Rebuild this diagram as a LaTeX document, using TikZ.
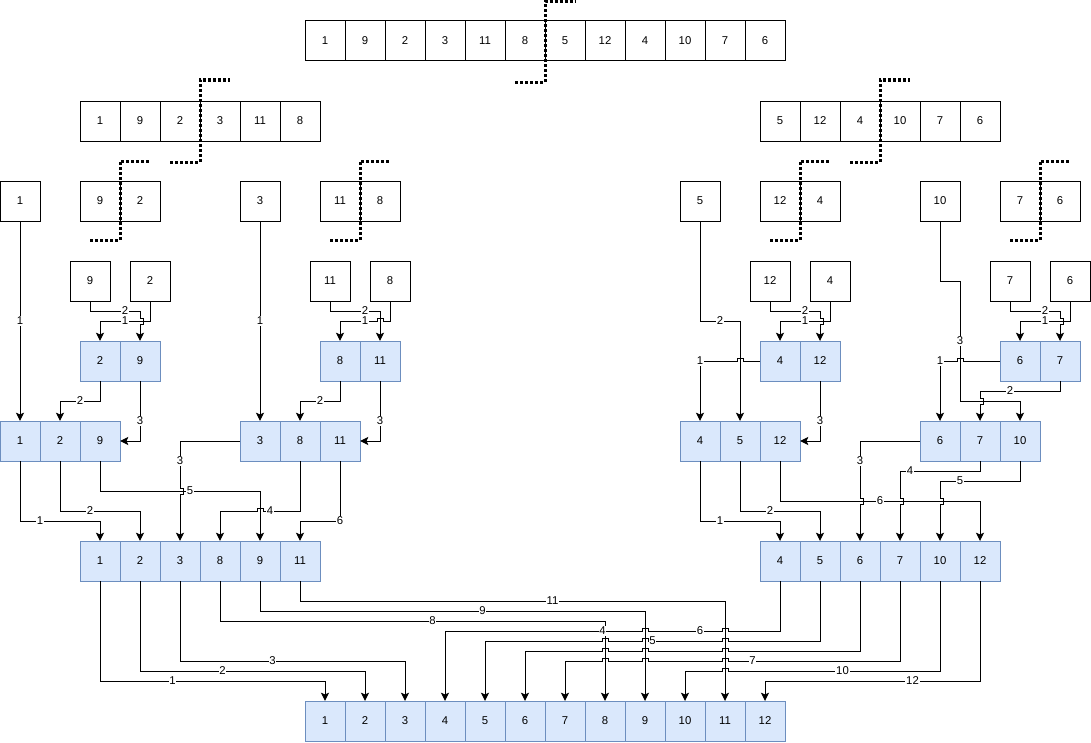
\documentclass[tikz,border=0pt]{standalone}
\usepackage{fontspec}
\setmainfont{Liberation Sans}
\usetikzlibrary{arrows.meta}
\definecolor{fillblue}{HTML}{DAE8FC}
\definecolor{bordblue}{HTML}{6C8EBF}
\begin{document}
\begin{tikzpicture}[x=0.75pt,y=-0.75pt,
  every node/.style={font=\fontsize{8.5}{10}\selectfont},
  cell/.style={draw=black,line width=0.75pt,minimum width=30pt,minimum height=30pt,inner sep=0pt,outer sep=0pt},
  bcell/.style={cell,draw=bordblue,fill=fillblue},
  ln/.style={line width=0.75pt,black},
  arr/.style={ln,-{Stealth[length=6.2pt,width=6pt,inset=1.3pt]}},
  lbl/.style={fill=white,inner sep=0.6pt},
  cut/.style={line width=2.25pt,dash pattern=on 2.25pt off 1.5pt}
]
\useasboundingbox (0,0) rectangle (1091,742);

% ---- level 1
\foreach \v [count=\i] in {1,9,2,3,11,8,5,12,4,10,7,6}
  \node[cell] (T\i) at ({285+40*\i},41) {\v};
% ---- level 2
\foreach \v [count=\i] in {1,9,2,3,11,8}
  \node[cell] (A\i) at ({60+40*\i},121) {\v};
\foreach \v [count=\i] in {5,12,4,10,7,6}
  \node[cell] (B\i) at ({740+40*\i},121) {\v};
% ---- level 3
\node[cell] (s1) at (20,201) {1};
\node[cell] (p1a) at (100,201) {9};
\node[cell] (p1b) at (140,201) {2};
\node[cell] (s2) at (260,201) {3};
\node[cell] (p2a) at (340,201) {11};
\node[cell] (p2b) at (380,201) {8};
\node[cell] (s3) at (700,201) {5};
\node[cell] (p3a) at (780,201) {12};
\node[cell] (p3b) at (820,201) {4};
\node[cell] (s4) at (940,201) {10};
\node[cell] (p4a) at (1020,201) {7};
\node[cell] (p4b) at (1060,201) {6};
% ---- level 4
\node[cell] (q1) at (90,281) {9};
\node[cell] (q2) at (150,281) {2};
\node[cell] (q3) at (330,281) {11};
\node[cell] (q4) at (390,281) {8};
\node[cell] (q5) at (770,281) {12};
\node[cell] (q6) at (830,281) {4};
\node[cell] (q7) at (1010,281) {7};
\node[cell] (q8) at (1070,281) {6};
% ---- level 5
\node[bcell] (m1a) at (100,361) {2};
\node[bcell] (m1b) at (140,361) {9};
\node[bcell] (m2a) at (340,361) {8};
\node[bcell] (m2b) at (380,361) {11};
\node[bcell] (m3a) at (780,361) {4};
\node[bcell] (m3b) at (820,361) {12};
\node[bcell] (m4a) at (1020,361) {6};
\node[bcell] (m4b) at (1060,361) {7};
% ---- level 6
\node[bcell] (t1a) at (20,441) {1};
\node[bcell] (t1b) at (60,441) {2};
\node[bcell] (t1c) at (100,441) {9};
\node[bcell] (t2a) at (260,441) {3};
\node[bcell] (t2b) at (300,441) {8};
\node[bcell] (t2c) at (340,441) {11};
\node[bcell] (t3a) at (700,441) {4};
\node[bcell] (t3b) at (740,441) {5};
\node[bcell] (t3c) at (780,441) {12};
\node[bcell] (t4a) at (940,441) {6};
\node[bcell] (t4b) at (980,441) {7};
\node[bcell] (t4c) at (1020,441) {10};
% ---- level 7
\foreach \v [count=\i] in {1,2,3,8,9,11}
  \node[bcell] (u\i) at ({60+40*\i},561) {\v};
\foreach \v [count=\i] in {4,5,6,7,10,12}
  \node[bcell] (v\i) at ({740+40*\i},561) {\v};
% ---- level 8
\foreach \i in {1,...,12}
  \node[bcell] (w\i) at ({285+40*\i},721) {\i};

% ---- split lines
\draw[cut] (515,82) -- (545,82) -- (545,1.5) -- (575,1.5);
\draw[cut] (170,162) -- (200,162) -- (200,80) -- (230,80);
\draw[cut] (90,240) -- (120,240) -- (120,161) -- (150,161);
\draw[cut] (330,240) -- (360,240) -- (360,161) -- (390,161);
\draw[cut] (850,162) -- (880,162) -- (880,80) -- (910,80);
\draw[cut] (770,240) -- (800,240) -- (800,161) -- (830,161);
\draw[cut] (1010,240) -- (1040,240) -- (1040,161) -- (1070,161);

% ---- level 4 -> 5
\draw[arr] (q1.south) -- (90,311) -- (140,311) -- (140,318) -- (143,318) -- (143,324) -- (140,324) -- (m1b.north);
\draw[arr] (q2.south) -- (150,321) -- (100,321) -- (m1a.north);
\draw[arr] (q3.south) -- (330,311) -- (380,311) -- (m2b.north);
\draw[arr] (q4.south) -- (390,321) -- (383,321) -- (383,318) -- (377,318) -- (377,321) -- (340,321) -- (m2a.north);
\draw[arr] (q5.south) -- (770,311) -- (820,311) -- (820,318) -- (823,318) -- (823,324) -- (820,324) -- (m3b.north);
\draw[arr] (q6.south) -- (830,321) -- (780,321) -- (m3a.north);
\draw[arr] (q7.south) -- (1010,311) -- (1060,311) -- (1060,318) -- (1063,318) -- (1063,324) -- (1060,324) -- (m4b.north);
\draw[arr] (q8.south) -- (1070,321) -- (1020,321) -- (m4a.north);

% ---- -> level 6
\draw[arr] (s1.south) -- (t1a.north);
\draw[arr] (m1a.south) -- (100,401) -- (60,401) -- (t1b.north);
\draw[arr] (m1b.south) -- (140,441) -- (t1c.east);
\draw[arr] (s2.south) -- (t2a.north);
\draw[arr] (m2a.south) -- (340,401) -- (300,401) -- (t2b.north);
\draw[arr] (m2b.south) -- (380,441) -- (t2c.east);
\draw[arr] (s3.south) -- (700,321) -- (740,321) -- (t3b.north);
\draw[arr] (m3a.west) -- (743,361) -- (743,358) -- (737,358) -- (737,361) -- (700,361) -- (t3a.north);
\draw[arr] (m3b.south) -- (820,441) -- (t3c.east);
\draw[arr] (s4.south) -- (940,281) -- (960,281) -- (960,401) -- (1020,401) -- (t4c.north);
\draw[arr] (m4a.west) -- (963,361) -- (963,358) -- (957,358) -- (957,361) -- (940,361) -- (t4a.north);
\draw[arr] (m4b.south) -- (1060,391) -- (980,391) -- (980,398) -- (983,398) -- (983,404) -- (980,404) -- (t4b.north);

% ---- level 6 -> 7
\draw[arr] (t1a.south) -- (20,521) -- (100,521) -- (u1.north);
\draw[arr] (t1b.south) -- (60,511) -- (140,511) -- (u2.north);
\draw[arr] (t1c.south) -- (100,491) -- (260,491) -- (u5.north);
\draw[arr] (t2a.west) -- (180,441) -- (180,488) -- (183,488) -- (183,494) -- (180,494) -- (u3.north);
\draw[arr] (t2b.south) -- (300,511) -- (263,511) -- (263,508) -- (257,508) -- (257,511) -- (220,511) -- (u4.north);
\draw[arr] (t2c.south) -- (340,521) -- (300,521) -- (u6.north);
\draw[arr] (t3a.south) -- (700,521) -- (780,521) -- (v1.north);
\draw[arr] (t3b.south) -- (740,511) -- (820,511) -- (v2.north);
\draw[arr] (t3c.south) -- (780,501) -- (980,501) -- (v6.north);
\draw[arr] (t4a.west) -- (860,441) -- (860,498) -- (863,498) -- (863,504) -- (860,504) -- (v3.north);
\draw[arr] (t4b.south) -- (980,471) -- (900,471) -- (900,498) -- (903,498) -- (903,504) -- (900,504) -- (v4.north);
\draw[arr] (t4c.south) -- (1020,481) -- (940,481) -- (940,498) -- (943,498) -- (943,504) -- (940,504) -- (v5.north);

% ---- level 7 -> 8
\draw[arr] (u1.south) -- (100,681) -- (325,681) -- (w1.north);
\draw[arr] (u2.south) -- (140,671) -- (365,671) -- (w2.north);
\draw[arr] (u3.south) -- (180,661) -- (405,661) -- (w3.north);
\draw[arr] (u4.south) -- (220,621) -- (605,621) -- (w8.north);
\draw[arr] (u5.south) -- (260,611) -- (645,611) -- (w9.north);
\draw[arr] (u6.south) -- (300,601) -- (725,601) -- (w11.north);
\draw[arr] (v1.south) -- (780,631) -- (728,631) -- (728,628) -- (722,628) -- (722,631)
  -- (648,631) -- (648,628) -- (642,628) -- (642,631) -- (445,631) -- (w4.north);
\draw[arr] (v2.south) -- (820,641) -- (728,641) -- (728,638) -- (722,638) -- (722,641)
  -- (648,641) -- (648,638) -- (642,638) -- (642,641)
  -- (608,641) -- (608,638) -- (602,638) -- (602,641) -- (485,641) -- (w5.north);
\draw[arr] (v3.south) -- (860,651) -- (728,651) -- (728,648) -- (722,648) -- (722,651)
  -- (648,651) -- (648,648) -- (642,648) -- (642,651)
  -- (608,651) -- (608,648) -- (602,648) -- (602,651) -- (525,651) -- (w6.north);
\draw[arr] (v4.south) -- (900,661) -- (728,661) -- (728,658) -- (722,658) -- (722,661)
  -- (648,661) -- (648,658) -- (642,658) -- (642,661)
  -- (608,661) -- (608,658) -- (602,658) -- (602,661) -- (565,661) -- (w7.north);
\draw[arr] (v5.south) -- (940,671) -- (728,671) -- (728,668) -- (722,668) -- (722,671) -- (685,671) -- (w10.north);
\draw[arr] (v6.south) -- (980,681) -- (765,681) -- (w12.north);

% ---- labels
\foreach \x/\y/\t in {125/311/2,125/321/1,365/311/2,365/321/1,805/311/2,805/321/1,1045/311/2,1045/321/1,
  20/321/1,80/401/2,140/421/3,260/321/1,320/401/2,380/421/3,720/321/2,700/361/1,820/421/3,960/341/3,940/361/1,1010/391/2,
  40/521/1,90/511/2,190/491/5,180/461/3,270/511/4,340/521/6,720/521/1,770/511/2,880/501/6,860/461/3,910/471/4,960/481/5,
  172.5/681/1,222.5/671/2,272.5/661/3,432.5/621/8,482.5/611/9,552.5/601/11,602.5/631/4,700/631/6,652.5/641/5,752.5/661/7,842.5/671/10,912.5/681/12}
  \node[lbl] at (\x,\y) {\t};
\end{tikzpicture}
\end{document}
